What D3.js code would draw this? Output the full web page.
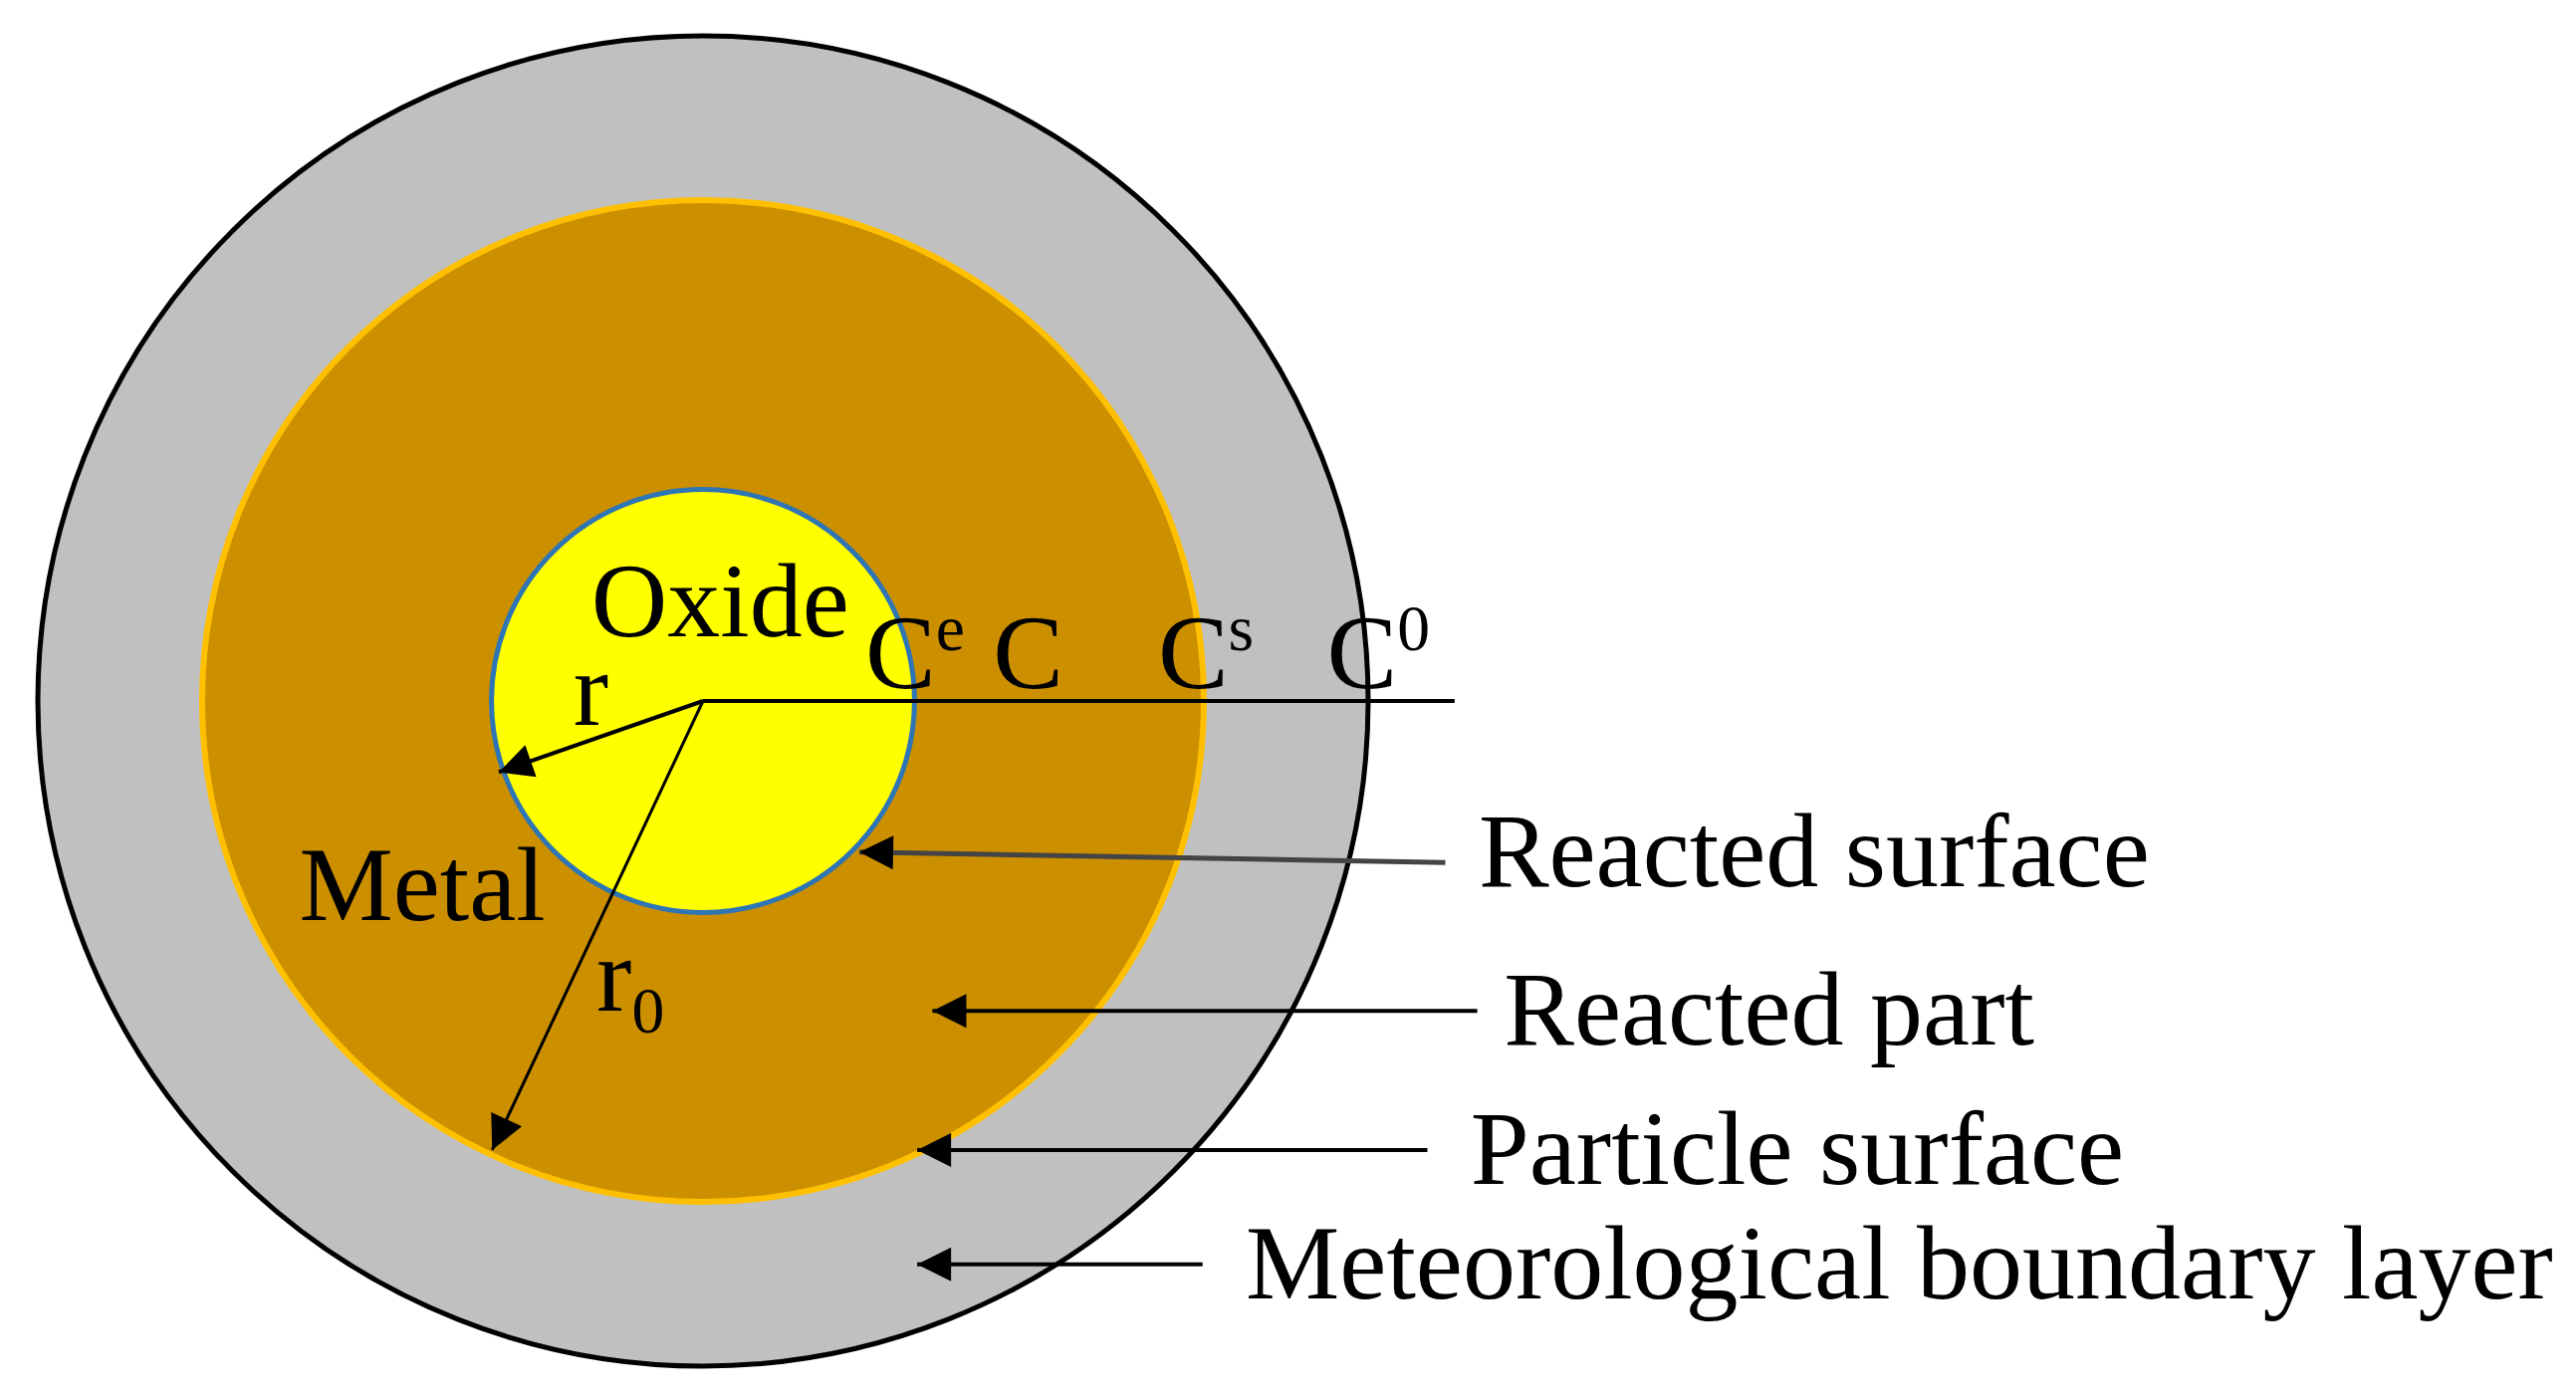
<!DOCTYPE html>
<html><head><meta charset="utf-8">
<script src="https://cdn.jsdelivr.net/npm/d3@7"></script>
<style>html,body{margin:0;padding:0;background:#fff}</style>
</head><body>
<svg id="c" width="2587" height="1402"></svg>
<script>
// Ring data (relative radii, outer = 1)
const rings = ["Meteorological boundary layer", "Particle surface", "Oxide core"];
const ringRadii = [1.0, 0.753, 0.318];
const ringFills = ["#c0c0c0", "#cc8f00", "#ffff00"];
const ringStrokes = ["#000000", "#ffc000", "#2e75b6"];
const ringStrokeW = [5, 6, 5];

// concentration labels
const concBase = ["C", "C", "C", "C"];
const concSup = ["e", "", "s", "0"];
const concX = [0.244, 0.436, 0.684, 0.938];

// callouts
const calloutLabels = ["Reacted surface", "Reacted part", "Particle surface", "Meteorological boundary layer"];
const calloutTipX = [0.235, 0.345, 0.322, 0.322];
const calloutTipY = [0.227, 0.466, 0.675, 0.847];
const calloutStartX = [1.116, 1.164, 1.089, 0.751];
const calloutStartY = [0.243, 0.466, 0.675, 0.847];
const calloutTextX = [1.166, 1.204, 1.154, 0.816];

const svg = d3.select("#c");
const cx = 706, cy = 704, R = 668;
const x = d3.scaleLinear().domain([0, 1]).range([cx, cx + R]);
const y = d3.scaleLinear().domain([0, 1]).range([cy, cy + R]);
const r = d3.scaleLinear().domain([0, 1]).range([0, R]);
const font = "'Liberation Serif','Times New Roman',serif";
const fs = 106;

const defs = svg.append("defs");
defs.append("marker").attr("id", "ah").attr("viewBox", "0 0 10 10").attr("refX", 10).attr("refY", 5)
  .attr("markerUnits", "userSpaceOnUse").attr("orient", "auto")
  .attr("markerWidth", 44).attr("markerHeight", 34)
  .append("path").attr("d", "M0,0 L10,5 L0,10 Z").attr("fill", "#000");

svg.selectAll("circle.ring").data(rings).join("circle").attr("class", "ring")
  .attr("cx", x(0)).attr("cy", y(0)).attr("r", (d, i) => r(ringRadii[i]))
  .attr("fill", (d, i) => ringFills[i]).attr("stroke", (d, i) => ringStrokes[i])
  .attr("stroke-width", (d, i) => ringStrokeW[i]);

svg.append("line").attr("x1", x(0)).attr("y1", y(0)).attr("x2", x(1.13)).attr("y2", y(0))
  .attr("stroke", "#000").attr("stroke-width", 4);
svg.append("line").attr("x1", x(0)).attr("y1", y(0)).attr("x2", x(-0.307)).attr("y2", y(0.107))
  .attr("stroke", "#000").attr("stroke-width", 4).attr("marker-end", "url(#ah)");
svg.append("line").attr("x1", x(0)).attr("y1", y(0)).attr("x2", x(-0.317)).attr("y2", y(0.675))
  .attr("stroke", "#000").attr("stroke-width", 3).attr("marker-end", "url(#ah)");

const txt = (xx, yy, s) => svg.append("text").attr("x", xx).attr("y", yy)
  .attr("font-family", font).attr("font-size", fs).attr("fill", "#000").text(s);

txt(x(-0.168), y(-0.098), "Oxide");
txt(x(-0.607), y(0.33), "Metal");
txt(x(-0.195), y(0.036), "r");
const r0 = txt(x(-0.16), y(0.465), "r");
r0.append("tspan").attr("font-size", fs * 0.62).attr("dy", 22).text("0");

concBase.forEach((b, i) => {
  const t = txt(x(concX[i]), y(-0.02), b);
  if (concSup[i]) t.append("tspan").attr("font-size", fs * 0.62).attr("dy", -38).text(concSup[i]);
});

calloutLabels.forEach((lab, i) => {
  svg.append("line").attr("x1", x(calloutStartX[i])).attr("y1", y(calloutStartY[i]))
    .attr("x2", x(calloutTipX[i])).attr("y2", y(calloutTipY[i]))
    .attr("stroke", i === 0 ? "#444" : "#000").attr("stroke-width", i === 0 ? 5 : 4)
    .attr("marker-end", "url(#ah)");
  txt(x(calloutTextX[i]), y(calloutTipY[i]) + 34, lab);
});
</script>
</body></html>
